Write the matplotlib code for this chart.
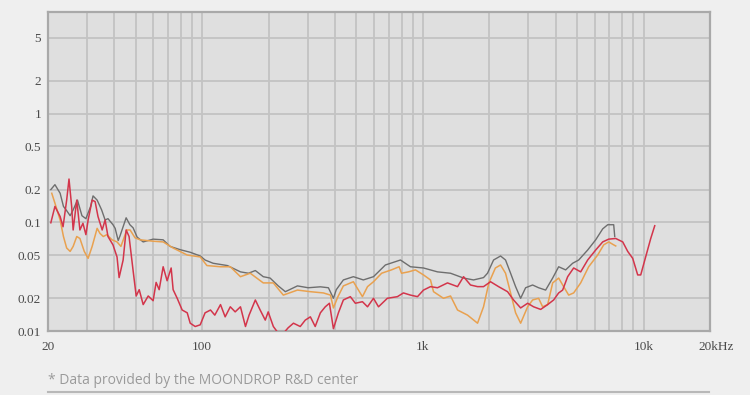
import matplotlib
matplotlib.use("Agg")
import matplotlib.pyplot as plt
import matplotlib.transforms as mtransforms

# ---- data (frequency in Hz, THD in %) ----
gray_f = [20.6, 21.5, 22.7, 23.5, 24.3, 25.2, 26.0, 27.2, 28.5, 29.7, 31.2, 32.0, 33.4, 35.0,
          36.3, 37.4, 39.4, 40.3, 41.6, 42.4, 45.2, 47.0, 48.6, 50.7, 54.0, 59.9, 66.5, 71.5,
          79.4, 88.2, 97.9, 103, 112, 130, 149, 162, 174, 189, 203, 221, 238, 270, 302, 343,
          373, 393, 405, 436, 484, 537, 597, 676, 791, 878, 1006, 1164, 1334, 1528, 1696,
          1882, 1962, 2090, 2248, 2368, 2496, 2630, 2772, 2920, 3141, 3344, 3598, 3872, 4122,
          4434, 4770, 5080, 5580, 6066, 6526, 6876, 7320, 7400]
gray_v = [0.200, 0.222, 0.185, 0.140, 0.128, 0.115, 0.130, 0.160, 0.115, 0.108, 0.140, 0.175,
          0.160, 0.130, 0.105, 0.108, 0.095, 0.088, 0.068, 0.075, 0.110, 0.095, 0.089, 0.073,
          0.066, 0.070, 0.069, 0.060, 0.056, 0.053, 0.049, 0.045, 0.042, 0.040, 0.035, 0.034,
          0.036, 0.0316, 0.0307, 0.026, 0.023, 0.026, 0.025, 0.0255, 0.025, 0.020, 0.024,
          0.0295, 0.0316, 0.0295, 0.0316, 0.0405, 0.045, 0.039, 0.038, 0.035, 0.034, 0.0307,
          0.0295, 0.031, 0.034, 0.045, 0.049, 0.045, 0.034, 0.0256, 0.020, 0.025, 0.0265,
          0.025, 0.0238, 0.0307, 0.039, 0.0365, 0.042, 0.045, 0.0556, 0.069, 0.087, 0.095,
          0.095, 0.074]

orange_f = [20.8, 21.5, 22.7, 23.5, 24.3, 25.2, 26.0, 27.0, 27.9, 29.2, 30.4, 31.7, 33.4,
            34.4, 35.6, 37.0, 39.0, 41.1, 42.8, 45.5, 47.1, 49.6, 52.3, 59.9, 66.5, 73.8,
            85.5, 97.9, 105, 121, 134, 149, 165, 189, 210, 233, 270, 309, 354, 381, 393, 412,
            436, 484, 532, 561, 597, 650, 720, 780, 800, 860, 925, 1006, 1082, 1117, 1239,
            1334, 1435, 1593, 1768, 1882, 1990, 2130, 2248, 2368, 2496, 2630, 2772, 2982,
            3141, 3344, 3487, 3675, 3872, 4122, 4342, 4576, 4820, 5187, 5638, 6194, 6595,
            6948, 7320, 7476]
orange_v = [0.185, 0.150, 0.105, 0.074, 0.058, 0.054, 0.060, 0.074, 0.071, 0.054, 0.0466,
            0.060, 0.088, 0.079, 0.074, 0.077, 0.069, 0.066, 0.060, 0.085, 0.085, 0.072,
            0.069, 0.067, 0.066, 0.058, 0.050, 0.048, 0.040, 0.039, 0.039, 0.0316, 0.034,
            0.0277, 0.0277, 0.0214, 0.0238, 0.023, 0.0224, 0.0214, 0.0163, 0.0207, 0.026,
            0.0284, 0.0207, 0.0256, 0.0284, 0.034, 0.0365, 0.039, 0.034, 0.035, 0.0365,
            0.0328, 0.0295, 0.023, 0.020, 0.021, 0.0156, 0.014, 0.0118, 0.0167, 0.0277,
            0.038, 0.0405, 0.034, 0.0224, 0.0147, 0.0118, 0.0167, 0.0193, 0.020, 0.0167,
            0.0175, 0.0277, 0.0307, 0.0256, 0.0214, 0.0224, 0.0277, 0.039, 0.050, 0.062,
            0.066, 0.062, 0.0606]

red_f = [20.6, 21.5, 22.7, 23.4, 24.3, 24.9, 25.6, 26.0, 27.0, 27.9, 28.8, 29.7, 30.4, 31.7,
         32.7, 33.7, 35.2, 36.3, 37.4, 39.4, 41.1, 42.0, 43.8, 45.2, 46.6, 48.6, 50.2, 51.8,
         54.0, 56.9, 59.9, 61.8, 63.8, 66.5, 69.3, 72.3, 73.8, 77.0, 81.1, 85.5, 88.2, 92.9,
         97.9, 103, 109, 114, 121, 127, 134, 141, 149, 157, 163, 174, 183, 193, 199, 210, 219,
         233, 245, 259, 278, 293, 309, 325, 343, 361, 377, 393, 414, 436, 469, 494, 532, 561,
         597, 629, 690, 766, 816, 878, 945, 1006, 1082, 1164, 1292, 1435, 1528, 1643, 1768,
         1882, 2025, 2202, 2418, 2575, 2772, 2982, 3174, 3416, 3675, 3912, 4122, 4297, 4528,
         4820, 5187, 5580, 6066, 6526, 6948, 7476, 8044, 8472, 8926, 9404, 9705, 10226,
         10774, 11234]
red_v = [0.099, 0.140, 0.113, 0.091, 0.160, 0.250, 0.140, 0.085, 0.160, 0.085, 0.098, 0.077,
         0.105, 0.160, 0.155, 0.113, 0.085, 0.105, 0.074, 0.062, 0.048, 0.031, 0.045, 0.085,
         0.074, 0.036, 0.021, 0.024, 0.0175, 0.021, 0.019, 0.028, 0.024, 0.039, 0.029, 0.038,
         0.024, 0.020, 0.0156, 0.0147, 0.0118, 0.011, 0.0114, 0.0147, 0.0156, 0.014, 0.0175,
         0.0135, 0.0167, 0.015, 0.0167, 0.011, 0.014, 0.0193, 0.0156, 0.0126, 0.015, 0.011,
         0.0098, 0.0095, 0.0107, 0.0118, 0.011, 0.0126, 0.0135, 0.011, 0.0147, 0.0167, 0.018,
         0.0105, 0.0147, 0.0193, 0.0207, 0.018, 0.0186, 0.0167, 0.020, 0.0167, 0.020, 0.0207,
         0.0224, 0.0214, 0.0207, 0.0238, 0.0256, 0.025, 0.0277, 0.0256, 0.0316, 0.0265,
         0.0256, 0.0256, 0.0284, 0.0256, 0.0230, 0.0193, 0.0163, 0.018, 0.0167, 0.0158,
         0.0175, 0.0193, 0.0224, 0.0238, 0.0316, 0.038, 0.035, 0.045, 0.0556, 0.066, 0.070,
         0.071, 0.066, 0.054, 0.0466, 0.0328, 0.0328, 0.0483, 0.071, 0.093]

x_ticks = [20, 100, 1000, 10000, 20000]
x_labels = ["20", "100", "1k", "10k", "20kHz"]
x_grid = [30, 40, 50, 60, 70, 80, 90, 200, 300, 400, 500, 600, 700, 800, 900,
          2000, 3000, 4000, 5000, 6000, 7000, 8000, 9000]
y_ticks = [0.01, 0.02, 0.05, 0.1, 0.2, 0.5, 1, 2, 5]
y_labels = ["0.01", "0.02", "0.05", "0.1", "0.2", "0.5", "1", "2", "5"]
footer = "* Data provided by the MOONDROP R&D center"

fig = plt.figure(figsize=(7.5, 3.95), dpi=100, facecolor="#efefef")
ax = fig.add_axes([0.064, 0.162, 0.8827, 0.8076])
ax.set_facecolor("#dfdfdf")
ax.set_xscale("log")
ax.set_yscale("log")
ax.set_xlim(20, 20000)
ax.set_ylim(0.01, 8.6)

ax.set_xticks(x_ticks)
ax.set_xticklabels(x_labels)
ax.set_xticks(x_grid, minor=True)
ax.set_xticklabels([], minor=True)
ax.set_yticks(y_ticks)
ax.set_yticklabels(y_labels)
ax.yaxis.set_minor_locator(matplotlib.ticker.NullLocator())

grid_kw = dict(color="#c3c3c3", linewidth=1.3)
ax.grid(True, which="major", axis="both", **grid_kw)
ax.grid(True, which="minor", axis="x", **grid_kw)
ax.set_axisbelow(True)

ax.tick_params(which="both", length=0)
ax.tick_params(axis="x", pad=7, labelsize=9.5, labelcolor="#4a4a4a")
ax.tick_params(axis="y", pad=5, labelsize=9.5, labelcolor="#4a4a4a")
for lab in ax.get_xticklabels() + ax.get_yticklabels():
    lab.set_fontfamily("Liberation Serif")
# shift "20kHz" a bit to the right like the reference
lab20k = ax.get_xticklabels()[-1]
lab20k.set_transform(lab20k.get_transform() +
                     mtransforms.ScaledTranslation(6 / 100, 0, fig.dpi_scale_trans))

for s in ax.spines.values():
    s.set_color("#a9a9a9")
    s.set_linewidth(1.6)

ax.plot(gray_f, gray_v, color="#6e6e6e", lw=1.0, zorder=3)
ax.plot(orange_f, orange_v, color="#e9a14f", lw=1.1, zorder=4)
ax.plot(red_f, red_v, color="#d3354b", lw=1.1, zorder=5)

fig.text(48 / 750, 1 - 380 / 395, footer, fontsize=10, color="#9a9a9a",
         family="Open Sans", ha="left", va="center")
fig.add_artist(plt.Line2D([48 / 750, 709 / 750], [1 - 392 / 395, 1 - 392 / 395],
                          color="#b8b8b8", lw=1.5, transform=fig.transFigure))

fig.savefig("out.png", dpi=100, facecolor=fig.get_facecolor())
